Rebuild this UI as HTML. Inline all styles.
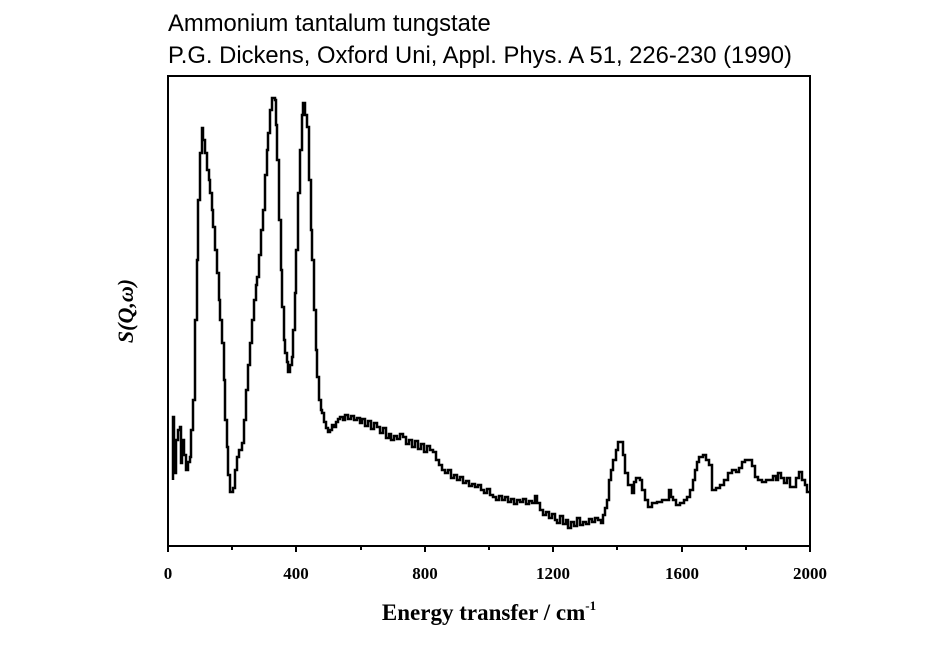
<!DOCTYPE html>
<html><head><meta charset="utf-8"><style>
body{margin:0;background:#fff;}
svg{display:block}
</style></head><body>
<svg width="941" height="656" xmlns="http://www.w3.org/2000/svg">
<text x="168" y="31" font-family="Liberation Sans, sans-serif" font-size="23.8">Ammonium tantalum tungstate</text>
<text x="168" y="63" font-family="Liberation Sans, sans-serif" font-size="23.8">P.G. Dickens, Oxford Uni, Appl. Phys. A 51, 226-230 (1990)</text>
<rect x="168" y="76" width="642" height="470" fill="none" stroke="#000" stroke-width="2"/>
<g stroke="#000" stroke-width="2">
<line x1="168" y1="546" x2="168" y2="552"/><line x1="232" y1="546" x2="232" y2="550"/>
<line x1="296" y1="546" x2="296" y2="552"/><line x1="361" y1="546" x2="361" y2="550"/>
<line x1="425" y1="546" x2="425" y2="552"/><line x1="489" y1="546" x2="489" y2="550"/>
<line x1="553" y1="546" x2="553" y2="552"/><line x1="617" y1="546" x2="617" y2="550"/>
<line x1="682" y1="546" x2="682" y2="552"/><line x1="746" y1="546" x2="746" y2="550"/>
<line x1="810" y1="546" x2="810" y2="552"/>
</g>
<g font-family="Liberation Serif, serif" font-weight="bold" font-size="17" text-anchor="middle">
<text x="168" y="579">0</text><text x="296" y="579">400</text><text x="425" y="579">800</text>
<text x="553" y="579">1200</text><text x="682" y="579">1600</text><text x="810" y="579">2000</text>
</g>
<text x="489" y="620" text-anchor="middle" font-family="Liberation Serif, serif" font-weight="bold" font-size="23">Energy transfer / cm<tspan dy="-10" font-size="13">-1</tspan></text>
<text transform="translate(133,311) rotate(-90)" text-anchor="middle" font-family="Liberation Serif, serif" font-weight="bold" font-style="italic" font-size="22">S(Q,ω)</text>
<path fill="none" stroke="#000" stroke-width="2.5" d="M173,480 V417 H174 V473 H176 V440 H178 V430 H180 V427 H181 V463 H182 V440 H184 V455 H186 V470 H188 V462 H190 V457 H191 V430 H193 V400 H195 V320 H197 V260 H198 V200 H200 V153 H202 V128 H203 V140 H205 V153 H207 V170 H209 V180 H210 V193 H212 V210 H213 V227 H215 V250 H217 V273 H219 V300 H220 V320 H222 V343 H224 V380 H225 V420 H227 V447 H228 V475 H230 V492 H233 V488 H235 V470 H237 V457 H239 V450 H242 V443 H244 V420 H246 V390 H248 V365 H250 V343 H252 V320 H254 V300 H256 V285 H257 V277 H259 V255 H261 V230 H263 V210 H265 V175 H267 V150 H268 V133 H270 V110 H272 V98 H275 V100 H276 V125 H277 V160 H279 V220 H281 V270 H282 V307 H284 V340 H285 V353 H287 V362 H288 V372 H290 V365 H292 V357 H293 V330 H295 V293 H296 V250 H298 V193 H300 V150 H302 V115 H303 V103 H305 V115 H307 V127 H309 V180 H311 V230 H312 V260 H314 V310 H316 V350 H317 V377 H319 V400 H321 V410 H322 V413 H324 V422 H326 V428 H328 V432 H330 V430 H332 V425 H334 V427 H336 V422 H338 V419 H340 V417 H343 V420 H345 V415 H348 V419 H351 V416 H354 V420 H357 V418 H360 V423 H362 V419 H365 V426 H368 V421 H371 V429 H374 V423 H377 V427 H380 V433 H383 V428 H386 V438 H389 V434 H391 V440 H394 V436 H397 V439 H400 V434 H403 V437 H406 V444 H409 V440 H412 V447 H415 V441 H418 V449 H421 V444 H424 V452 H427 V446 H430 V450 H433 V452 H436 V460 H439 V465 H442 V470 H445 V473 H448 V470 H451 V478 H454 V475 H457 V480 H460 V477 H463 V483 H466 V481 H469 V486 H472 V484 H475 V487 H478 V485 H481 V490 H484 V493 H487 V489 H490 V495 H493 V497 H496 V500 H499 V496 H502 V500 H505 V497 H508 V502 H511 V499 H514 V504 H517 V500 H520 V502 H523 V499 H526 V504 H529 V501 H532 V503 H535 V496 H537 V503 H540 V510 H543 V515 H546 V512 H549 V518 H552 V514 H555 V520 H557 V523 H560 V516 H563 V524 H566 V520 H568 V528 H571 V522 H574 V526 H577 V518 H580 V525 H583 V522 H586 V524 H589 V519 H592 V522 H595 V518 H598 V520 H601 V523 H603 V515 H605 V508 H607 V500 H609 V480 H611 V470 H613 V460 H616 V450 H618 V442 H623 V455 H625 V473 H628 V485 H632 V493 H634 V482 H636 V478 H640 V480 H642 V490 H645 V500 H648 V507 H652 V503 H657 V502 H662 V500 H667 V500 H669 V490 H671 V497 H673 V500 H676 V505 H680 V503 H684 V500 H687 V497 H690 V490 H693 V480 H695 V470 H697 V462 H699 V457 H703 V455 H706 V460 H709 V465 H712 V490 H716 V488 H720 V485 H724 V480 H728 V473 H732 V470 H736 V472 H739 V468 H742 V462 H745 V460 H749 V460 H752 V466 H755 V477 H758 V480 H762 V482 H766 V480 H770 V480 H773 V476 H776 V480 H778 V473 H781 V478 H784 V483 H787 V478 H790 V487 H793 V487 H796 V478 H799 V472 H802 V480 H805 V485 H807 V492 H810"/>
</svg>
</body></html>
